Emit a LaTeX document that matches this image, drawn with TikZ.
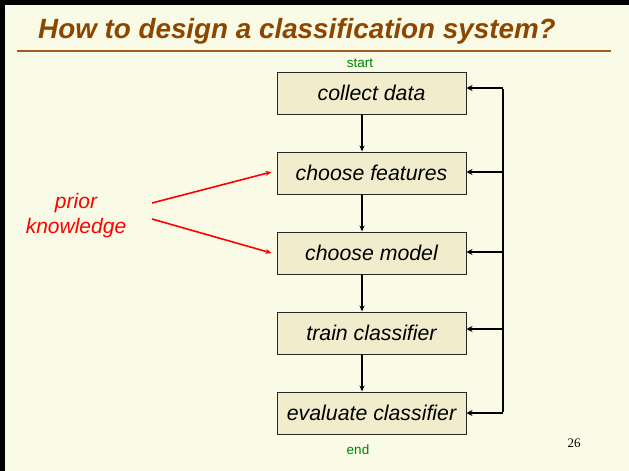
\documentclass[tikz,border=0pt]{standalone}
\usepackage{fontspec}
\setmainfont{Liberation Sans}
\newfontfamily\numfont{Liberation Serif}
\usetikzlibrary{arrows.meta,calc}
\definecolor{bgc}{RGB}{250,251,230}
\definecolor{boxc}{RGB}{240,236,204}
\definecolor{titlec}{RGB}{140,70,0}
\definecolor{rulec}{RGB}{160,90,30}
\definecolor{greenc}{RGB}{0,128,0}
\tikzset{
  stepbox/.style={draw=black!85, line width=1pt, fill=boxc, minimum width=189pt, minimum height=42pt, inner sep=0pt,
    font=\fontsize{21.3}{24}\selectfont\itshape},
  flow/.style={line width=1.5pt, -{Stealth[length=6pt,width=5pt]}},
  back/.style={line width=2.2pt},
  backarr/.style={line width=2.2pt, -{Stealth[length=6pt,width=6pt]}},
  prior/.style={red, line width=1.6pt, -{Stealth[length=6pt,width=5pt]}},
  smallg/.style={greenc, font=\fontsize{13.5}{16}\selectfont},
}
\begin{document}
\begin{tikzpicture}[x=1pt,y=-1pt]
\useasboundingbox (0,0) rectangle (629,471);
\fill[bgc] (0,0) rectangle (629,471);
\fill[black] (0,0) rectangle (629,4.5);
\fill[black] (0,0) rectangle (5,471);
\node[anchor=base west, text=titlec, font=\fontsize{27.8}{32}\selectfont\bfseries\itshape, inner sep=0pt] (title) at (38,38) {How to design a classification system?};
\draw[rulec, line width=2pt] (17,51) -- (611,51);

\node[smallg] (start) at (360,63) {start};
\node[stepbox] (a) at (371.5,93) {collect data};
\node[stepbox] (b) at (371.5,173) {choose features};
\node[stepbox] (c) at (371.5,253) {choose model};
\node[stepbox] (d) at (371.5,333) {train classifier};
\node[stepbox] (e) at (371.5,413) {evaluate classifier};
\node[smallg] (end) at (358,450) {end};
\node[font=\numfont\fontsize{13}{15}\selectfont] (num) at (574,443) {26};

\coordinate (vx) at (362,0);
\draw[flow] (a.south -| vx) -- (b.north -| vx);
\draw[flow] (b.south -| vx) -- (c.north -| vx);
\draw[flow] (c.south -| vx) -- (d.north -| vx);
\draw[flow] (d.south -| vx) -- (e.north -| vx);

\coordinate (f1) at (503,88);
\coordinate (f2) at (503,172);
\coordinate (f3) at (503,252);
\coordinate (f4) at (503,329);
\coordinate (f5) at (503,413);
\draw[back] ([yshift=-1.1pt]f1) -- ([yshift=1.1pt]f5);
\draw[backarr] (f1) -- (a.east |- f1);
\draw[backarr] (f2) -- (b.east |- f2);
\draw[backarr] (f3) -- (c.east |- f3);
\draw[backarr] (f4) -- (d.east |- f4);
\draw[backarr] (f5) -- (e.east |- f5);

\node[text=red, align=center, font=\fontsize{21}{25}\selectfont\itshape] (pk) at (76,216) {prior\\knowledge};
\coordinate (p1) at (152,203);
\coordinate (p2) at (152,219);
\draw[prior] (p1) -- ($(b.west)+(-5,-1)$);
\draw[prior] (p2) -- ($(c.west)+(-5,0)$);
\end{tikzpicture}
\end{document}
